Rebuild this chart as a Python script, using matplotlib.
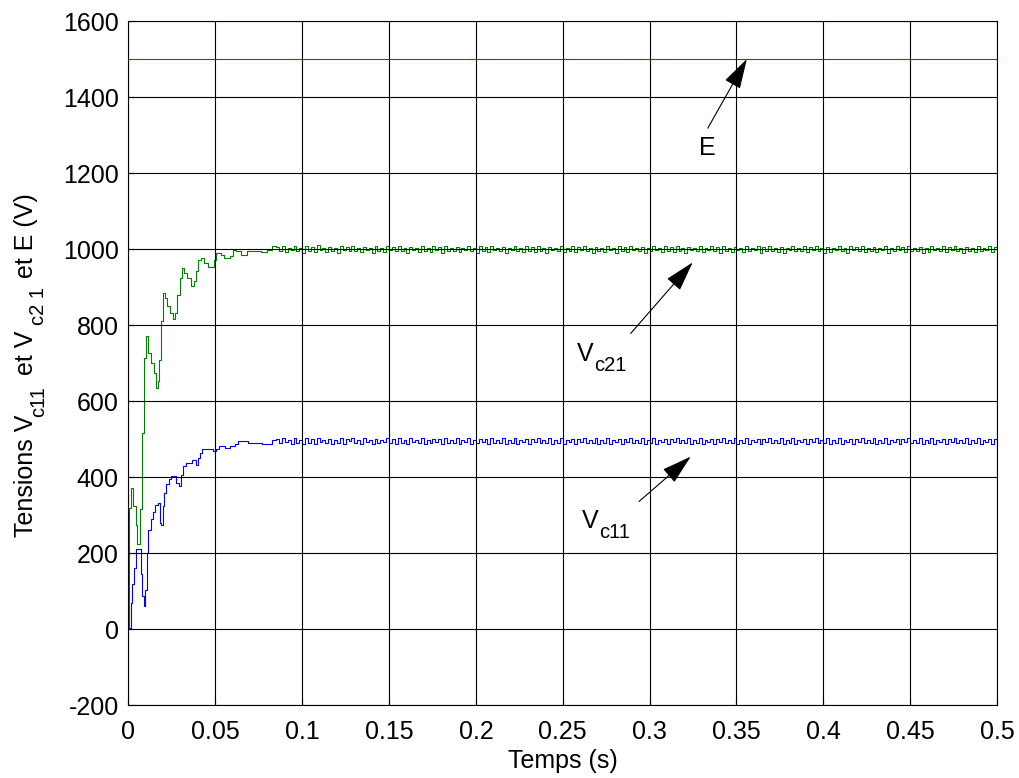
import numpy as np
import matplotlib
matplotlib.use("Agg")
import matplotlib.pyplot as plt
from matplotlib.transforms import IdentityTransform, offset_copy

plt.rcParams['font.family'] = ['Liberation Sans', 'DejaVu Sans']
plt.rcParams['axes.unicode_minus'] = False

# ---- data ---------------------------------------------------------------
E_value = 1500.0

# start-up transient of V_c21 (time in s, voltage in V)
t_vc21_start = [0.0, 0.0003, 0.0012, 0.0027, 0.0041, 0.0051, 0.0068, 0.0076,
                0.0088, 0.0102, 0.0115, 0.0128, 0.0144, 0.0158, 0.0167, 0.0175,
                0.0185, 0.0196, 0.0210, 0.0222, 0.0241, 0.0255, 0.0268, 0.0282,
                0.0294, 0.0306, 0.0319, 0.0339, 0.0360, 0.0379, 0.0391, 0.0401,
                0.0416, 0.0436, 0.0455, 0.0475, 0.0494, 0.0504, 0.0533, 0.0552,
                0.0582, 0.0601, 0.0621, 0.0650, 0.0680, 0.0720, 0.0760, 0.0800,
                0.0825]
v_vc21_start = [0, 320, 372, 324, 275, 223, 315, 516,
                714, 771, 727, 701, 674, 635, 653, 709,
                810, 885, 872, 850, 832, 816, 832, 880,
                924, 950, 937, 924, 902, 916, 942, 972,
                977, 963, 952, 954, 972, 989, 985, 977,
                981, 998, 994, 985, 994, 995, 992, 998,
                1007]

# start-up transient of V_c11
t_vc11_start = [0.0, 0.0004, 0.0012, 0.0021, 0.0033, 0.0043, 0.0070, 0.0080,
                0.0090, 0.0095, 0.0105, 0.0115, 0.0128, 0.0140, 0.0154, 0.0167,
                0.0179, 0.0189, 0.0197, 0.0206, 0.0218, 0.0232, 0.0245, 0.0262,
                0.0275, 0.0290, 0.0300, 0.0313, 0.0329, 0.0348, 0.0368, 0.0387,
                0.0401, 0.0412, 0.0426, 0.0455, 0.0485, 0.0504, 0.0523, 0.0553,
                0.0582, 0.0611, 0.0630, 0.0689, 0.0767, 0.0825]
v_vc11_start = [0, 3, 69, 118, 161, 210, 144, 87,
                61, 104, 201, 262, 289, 308, 328, 333,
                280, 275, 324, 359, 381, 394, 403, 403,
                385, 377, 407, 429, 438, 438, 446, 433,
                451, 464, 473, 473, 468, 473, 481, 477,
                481, 486, 495, 490, 486, 499]

# steady-state samples, evenly spaced from 0.085 s to 0.5 s (switching ripple)
v_vc21_steady = [
    1006, 995, 1008, 993, 1004, 997, 1009, 994, 1003, 991,
    1007, 996, 1005, 992, 1010, 998, 1004, 993, 1006, 995,
    1002, 990, 1008, 997, 1005, 994, 1009, 996, 1003, 992,
    1006, 998, 1004, 991, 1007, 995, 1002, 993, 1008, 997,
    1005, 994, 1009, 996, 1003, 990, 1006, 998, 1004, 992,
    1008, 995, 1002, 993, 1007, 997, 1005, 991, 1009, 996,
    1003, 994, 1006, 992, 1004, 998, 1008, 995, 1002, 990,
    1007, 996, 1005, 993, 1009, 997, 1003, 994, 1006, 991,
    1004, 998, 1008, 995, 1002, 992, 1007, 996, 1005, 993,
    1009, 994, 1003, 990, 1006, 997, 1004, 995, 1008, 992,
    1002, 996, 1007, 993, 1005, 998, 1009, 994, 1003, 991,
    1006, 995, 1004, 992, 1008, 997, 1002, 990, 1007, 996,
    1005, 993, 1009, 998, 1003, 994, 1006, 991, 1004, 995,
    1008, 997, 1002, 992, 1007, 996, 1005, 993, 1009, 994,
    1003, 990, 1006, 998, 1004, 995, 1008, 992, 1002, 997,
    1007, 994, 1005, 991, 1009, 996, 1003, 993, 1006, 998,
    1004, 992, 1008, 995, 1002, 997, 1007, 990, 1005, 994,
    1009, 996, 1003, 993, 1006, 991, 1004, 998, 1008, 995,
    1002, 994, 1007, 992, 1005, 997, 1009, 996, 1003, 990,
    1006, 993, 1004, 998, 1008, 995, 1002, 991, 1007, 997,
    1005, 994, 1009, 992, 1003, 996, 1006, 993, 1004, 998,
    1008, 991, 1002, 995, 1007, 997, 1005, 992, 1009, 994,
    1003, 996, 1006, 990, 1004, 993, 1008, 997, 1002, 995,
    1007, 992, 1005, 998, 1009, 994, 1003, 991, 1006, 996,
    1004, 993, 1008, 995, 1002, 997, 1007, 992, 1005, 994]

v_vc11_steady = [
    501, 489, 503, 492, 499, 486, 502, 491, 498, 488,
    504, 490, 500, 487, 503, 493, 499, 489, 501, 486,
    497, 491, 502, 488, 500, 494, 504, 490, 498, 487,
    503, 492, 499, 486, 501, 489, 497, 493, 502, 490,
    500, 488, 504, 491, 498, 487, 503, 492, 499, 489,
    502, 486, 497, 490, 501, 493, 500, 488, 504, 491,
    498, 489, 503, 487, 499, 492, 502, 486, 497, 490,
    501, 493, 500, 488, 504, 491, 498, 489, 503, 487,
    499, 490, 502, 486, 497, 492, 501, 488, 500, 493,
    504, 489, 498, 491, 503, 487, 499, 490, 502, 486,
    497, 492, 501, 488, 500, 493, 504, 489, 498, 491,
    503, 487, 499, 490, 502, 486, 497, 492, 501, 488,
    500, 493, 504, 489, 498, 491, 503, 487, 499, 490,
    502, 486, 497, 492, 501, 488, 500, 493, 504, 489,
    498, 491, 503, 487, 499, 490, 502, 486, 497, 492,
    501, 488, 500, 493, 504, 489, 498, 491, 503, 487,
    499, 490, 502, 486, 497, 492, 501, 488, 500, 493,
    504, 489, 498, 491, 503, 487, 499, 490, 502, 486,
    497, 492, 501, 488, 500, 493, 504, 489, 498, 491,
    503, 487, 499, 490, 502, 486, 497, 492, 501, 488,
    500, 493, 504, 489, 498, 491, 503, 487, 499, 490,
    502, 486, 497, 492, 501, 488, 500, 493, 504, 489,
    498, 491, 503, 487, 499, 490, 502, 486, 497, 492,
    501, 488, 500, 493, 504, 489, 498, 491, 503, 487,
    499, 490, 502, 486, 497, 492, 501, 488, 500, 494]

t_steady_start, t_end = 0.085, 0.5

x_ticks = [0, 0.05, 0.1, 0.15, 0.2, 0.25, 0.3, 0.35, 0.4, 0.45, 0.5]
x_ticklabels = ['0', '0.05', '0.1', '0.15', '0.2', '0.25', '0.3', '0.35',
                '0.4', '0.45', '0.5']
y_ticks = [-200, 0, 200, 400, 600, 800, 1000, 1200, 1400, 1600]

# ---- assemble full time series -------------------------------------------
t21 = np.concatenate([t_vc21_start,
                      np.linspace(t_steady_start, t_end, len(v_vc21_steady))])
v21 = np.concatenate([v_vc21_start, v_vc21_steady])
t11 = np.concatenate([t_vc11_start,
                      np.linspace(t_steady_start, t_end, len(v_vc11_steady))])
v11 = np.concatenate([v_vc11_start, v_vc11_steady])

# ---- figure --------------------------------------------------------------
W, H = 1019, 778
fig = plt.figure(figsize=(W / 100, H / 100), dpi=100)
ax = fig.add_axes([0.1261, 0.0935, 0.8523, 0.8795])

FS = 18      # main text size
FS_SUB = 14.5  # subscript size

ax.plot([0, t_end], [E_value, E_value], color='#e00000', lw=0.8)
ax.plot(t21, v21, color='#008000', lw=0.8, drawstyle='steps-post')
ax.plot(t11, v11, color='#0000ff', lw=0.8, drawstyle='steps-post')

ax.set_xlim(0, 0.5)
ax.set_ylim(-200, 1600)
ax.set_xticks(x_ticks)
ax.set_xticklabels(x_ticklabels)
ax.set_yticks(y_ticks)

ax.grid(True, color='black', linestyle='-', linewidth=0.8)
ax.set_axisbelow(False)
for sp in ax.spines.values():
    sp.set_linewidth(0.8)
ax.tick_params(direction='in', length=5, width=0.8, labelsize=FS)
ax.tick_params(axis='x', pad=10.5)
ax.tick_params(axis='y', pad=7)

# x label, baseline placed just under the tick labels
ax.set_xlabel('Temps (s)', fontsize=FS)
ax.xaxis.set_label_coords(0.5, -0.0921)
ax.xaxis.label.set_va('baseline')

# y label with real subscripts, written piece by piece (bottom to top)
ylabel_pieces = [
    ('Tensions V', FS, 33, 537),
    ('c11', FS_SUB, 44, 417),
    (' et V', FS, 33, 382),
    ('c2 1', FS_SUB, 44, 325),
    ('et E (V)', FS, 33, 278),
]
for s, size, xb, yb in ylabel_pieces:
    fig.text(xb, H - yb, s, fontsize=size, rotation=90,
             rotation_mode='anchor', ha='left', va='baseline',
             transform=IdentityTransform())

# ---- annotations ---------------------------------------------------------
arrow_kw = dict(arrowstyle='-|>,head_length=1.9,head_width=0.55',
                mutation_scale=10, color='black', lw=0.8,
                shrinkA=0, shrinkB=0)


def label_with_sub(x, y, main, sub):
    ax.text(x, y, main, fontsize=FS, ha='left', va='baseline')
    tr = offset_copy(ax.transData, fig=fig, x=17, y=-10, units='dots')
    ax.text(x, y, sub, fontsize=FS_SUB, ha='left', va='baseline', transform=tr)


ax.annotate('', xy=(0.356, 1500), xytext=(0.3335, 1318), arrowprops=arrow_kw)
ax.text(0.3284, 1247, 'E', fontsize=FS, ha='left', va='baseline')

ax.annotate('', xy=(0.3248, 965), xytext=(0.2891, 778), arrowprops=arrow_kw)
label_with_sub(0.2580, 706, 'V', 'c21')

ax.annotate('', xy=(0.3237, 454), xytext=(0.2939, 336), arrowprops=arrow_kw)
label_with_sub(0.2609, 266, 'V', 'c11')

fig.savefig('out.png', dpi=100)
